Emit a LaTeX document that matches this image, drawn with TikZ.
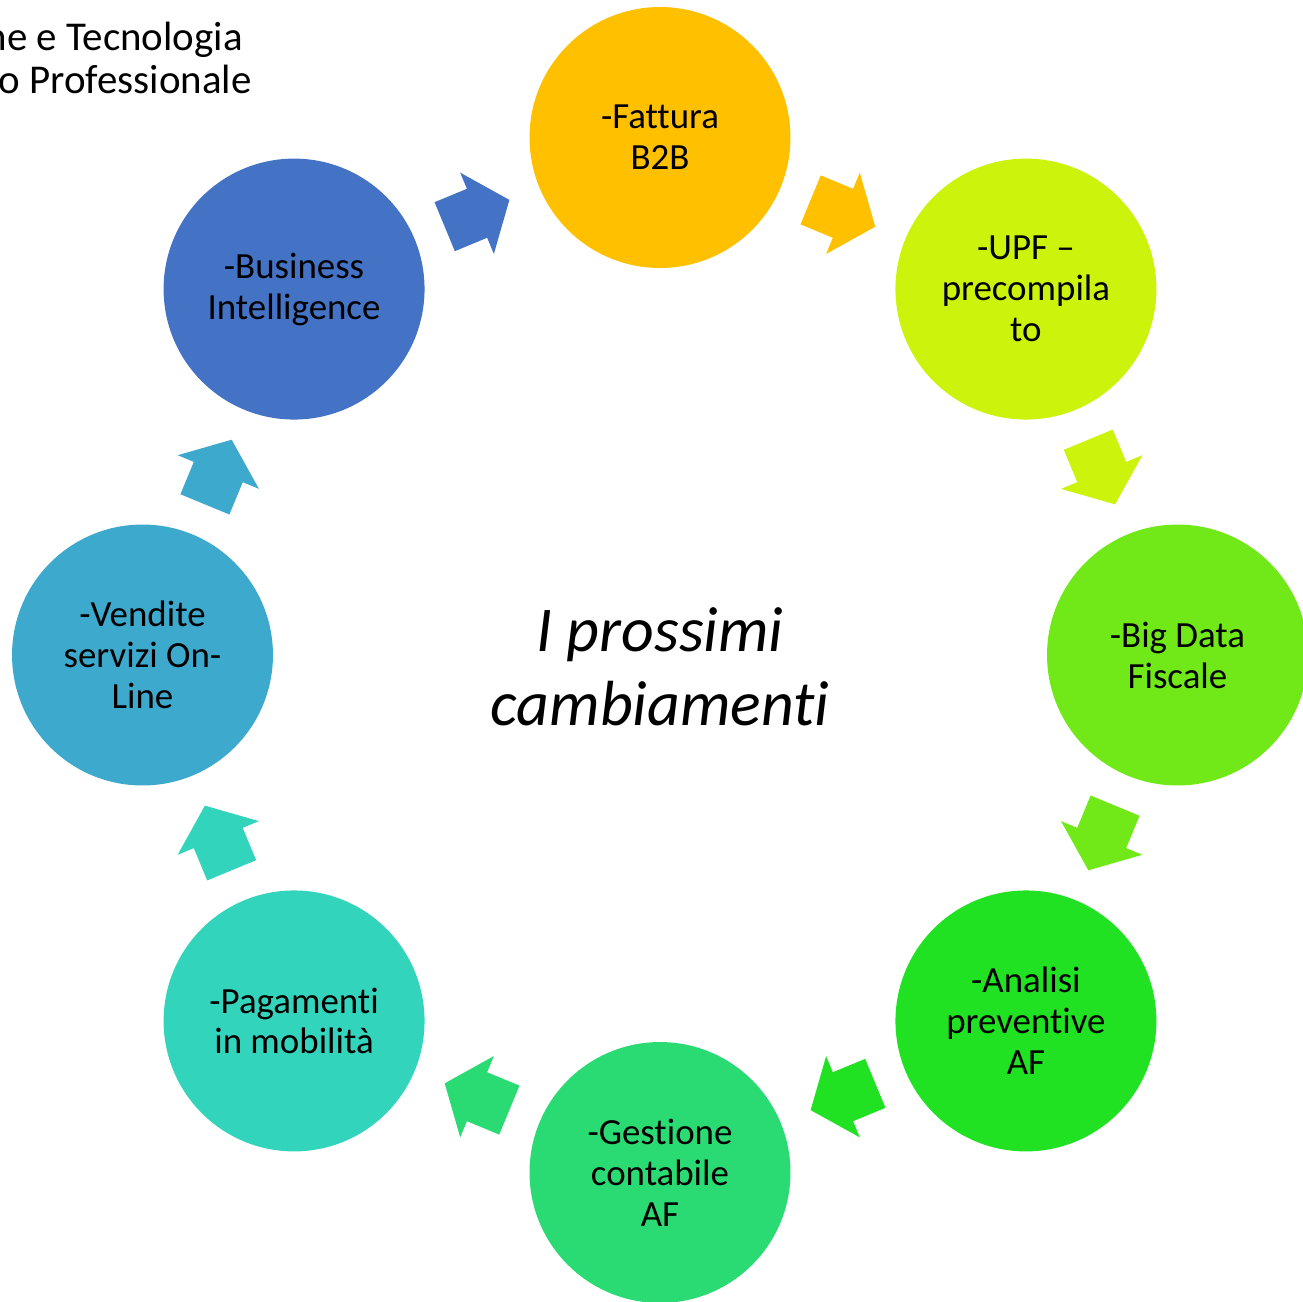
\documentclass[tikz,border=0pt]{standalone}
\usepackage{fontspec}
\setmainfont[Ligatures={TeX,NoCommon}]{Carlito}
\usepackage{tikz}
\usetikzlibrary{calc,positioning}

\definecolor{cBI}{HTML}{4472C4}
\definecolor{cFat}{HTML}{FFC000}
\definecolor{cUpf}{HTML}{CCF30C}
\definecolor{cBig}{HTML}{71E818}
\definecolor{cAna}{HTML}{20E222}
\definecolor{cGes}{HTML}{2ADB74}
\definecolor{cPag}{HTML}{33D4BC}
\definecolor{cVen}{HTML}{3DA9CC}

\begin{document}
\begin{tikzpicture}[x=0.02cm, y=0.02cm]
\tikzstyle{ring}=[circle, minimum size=5.22cm, inner sep = 0 pt, align=center, font=\fontsize{21}{23.3}\selectfont]
\tikzstyle{hdr}=[anchor=base east, inner sep = 0 pt, font=\fontsize{23.3}{24.5}\selectfont]
\pgfmathsetmacro{\rr}{517.5}

\useasboundingbox (0,0) rectangle (1303,-1302);
\coordinate (O) at (660,-655);

\node[hdr] (hd1) at (243,-50) {ne e Tecnologia};
\node[hdr] (hd2) at (252,-93) {o Professionale};

\foreach \nm/\ang/\col/\txt in {fat/90/cFat/{-Fattura\\B2B}, upf/45/cUpf/{-UPF –\\precompila\\to}, big/0/cBig/{-Big Data\\Fiscale}, ana/-45/cAna/{-Analisi\\preventive\\AF}, ges/-90/cGes/{-Gestione\\contabile\\AF}, pag/-135/cPag/{-Pagamenti\\in mobilità}, ven/180/cVen/{-Vendite\\servizi On-\\Line}, bi/135/cBI/{-Business\\Intelligence}}{
  \node[ring, fill=\col] (\nm) at ($(O)+(\ang:\rr)$) {\txt};
}

% block arrows between neighbours, clockwise
\foreach \a/\b/\ang/\col in {bi/fat/22.5/cBI, fat/upf/-22.5/cFat, upf/big/-67.5/cUpf, big/ana/-112.5/cBig, ana/ges/-157.5/cAna, ges/pag/157.5/cGes, pag/ven/112.5/cPag, ven/bi/67.5/cVen}{
  \begin{scope}[shift={($(\a)!0.5!(\b)$)}, rotate=\ang]
    \fill[\col] (-35,-26.5) -- (0,-26.5) -- (0,-44) -- (35,0) -- (0,44) -- (0,26.5) -- (-35,26.5) -- cycle;
  \end{scope}
}

\node[font=\fontsize{36.3}{42}\selectfont\itshape, align=center] (ttl) at (660,-667) {I prossimi\\cambiamenti};
\end{tikzpicture}
\end{document}
